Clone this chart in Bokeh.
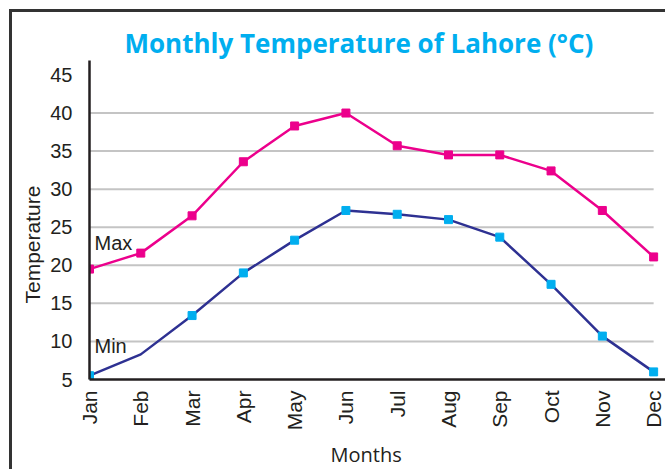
import math
from bokeh.plotting import figure
from bokeh.models import ColumnDataSource, Range1d, FixedTicker, Label, Title
from bokeh.embed import file_html
from bokeh.resources import INLINE

months = ["Jan", "Feb", "Mar", "Apr", "May", "Jun", "Jul", "Aug", "Sep", "Oct", "Nov", "Dec"]
max_temp = [19.5, 21.6, 26.5, 33.6, 38.3, 40.0, 35.7, 34.5, 34.5, 32.4, 27.2, 21.1]
min_temp = [5.5, 8.3, 13.4, 19.0, 23.3, 27.2, 26.7, 26.0, 23.7, 17.5, 10.7, 6.0]
min_marker_shown = [True, False, True, True, True, True, True, True, True, True, True, True]
y_ticks = [5, 10, 15, 20, 25, 30, 35, 40, 45]
grid_values = [10, 15, 20, 25, 30, 35, 40]

title_text = "Monthly Temperature of Lahore (\u00b0C)"
x_title = "Months"
y_title = "Temperature"
MAGENTA = "#EC008C"
NAVY = "#2E3192"
CYAN = "#00AEEF"
INK = "#231F20"

idx = list(range(len(months)))

p = figure(width=656, height=460, output_backend="svg", toolbar_location=None,
           x_range=Range1d(0, 11.29), y_range=Range1d(5, 46.9),
           min_border_left=77, min_border_right=0, min_border_top=48, min_border_bottom=91,
           title=title_text)
p.styles = {"margin-top": "9px", "margin-left": "9px",
            "border-top": "3px solid #333333", "border-left": "3px solid #333333"}
p.outline_line_color = None
p.xgrid.visible = False
p.ygrid.visible = False

p.title.text_font = "Open Sans"
p.title.text_font_style = "bold"
p.title.text_font_size = "26px"
p.title.text_color = CYAN
p.title.align = "left"
p.title.offset = 35
p.title.standoff = 0

# grid lines spanning Jan..Dec only
p.segment(x0=[idx[0]] * len(grid_values), x1=[idx[-1]] * len(grid_values),
          y0=grid_values, y1=grid_values, line_color="#C4C4C4", line_width=2)

src_max = ColumnDataSource(dict(x=idx, y=max_temp))
src_min = ColumnDataSource(dict(x=idx, y=min_temp))
mk = [i for i in idx if min_marker_shown[i]]
src_min_mk = ColumnDataSource(dict(x=mk, y=[min_temp[i] for i in mk]))

p.line("x", "y", source=src_max, line_color=MAGENTA, line_width=2.5)
p.scatter("x", "y", source=src_max, marker="square", size=8, fill_color=MAGENTA, line_color=MAGENTA)
p.line("x", "y", source=src_min, line_color=NAVY, line_width=2.5)
p.scatter("x", "y", source=src_min_mk, marker="square", size=8, fill_color=CYAN, line_color=CYAN)

# axes
for ax in (p.xaxis[0], p.yaxis[0]):
    ax.axis_line_color = INK
    ax.axis_line_width = 2.5
    ax.major_tick_line_color = None
    ax.minor_tick_line_color = None
    ax.major_tick_out = 0
    ax.major_tick_in = 0
    ax.major_label_text_font = "Liberation Sans"
    ax.major_label_text_color = INK

p.yaxis.ticker = FixedTicker(ticks=y_ticks)
p.yaxis.major_label_text_font_size = "20px"
p.yaxis.major_label_standoff = 17

p.xaxis.ticker = FixedTicker(ticks=idx)
p.xaxis.major_label_overrides = {i: m for i, m in enumerate(months)}
p.xaxis.major_label_orientation = math.pi / 2
p.xaxis.major_label_text_font_size = "21px"
p.xaxis.major_label_standoff = 11

# axis titles (as side titles so they can be placed along the axis)
p.add_layout(Title(text=y_title, align="left", offset=76, standoff=7,
                   text_font="Liberation Sans", text_font_style="normal",
                   text_font_size="21px", text_color=INK), "left")
p.add_layout(Title(text=x_title, align="left", offset=241, standoff=10,
                   text_font="Open Sans", text_font_style="normal",
                   text_font_size="20px", text_color=INK), "below")

# series labels
p.add_layout(Label(x=0, y=22.9, x_offset=5, text="Max", text_baseline="alphabetic",
                   text_font="Liberation Sans", text_font_size="20px", text_color=INK))
p.add_layout(Label(x=0, y=9.45, x_offset=5, text="Min", text_baseline="alphabetic",
                   text_font="Liberation Sans", text_font_size="20px", text_color=INK))

open("out.html", "w").write(file_html(p, INLINE))
